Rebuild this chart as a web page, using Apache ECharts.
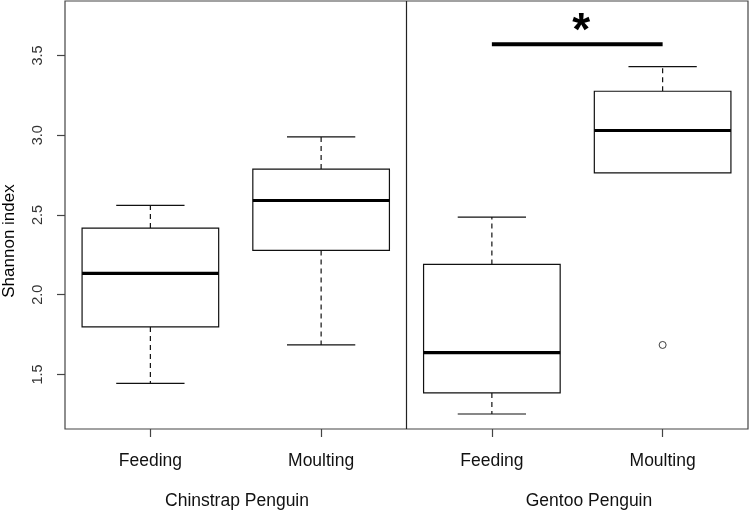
<!DOCTYPE html>
<html>
<head>
<meta charset="utf-8">
<script src="https://cdn.jsdelivr.net/npm/echarts@6/dist/echarts.min.js"></script>
<style>html,body{margin:0;padding:0;background:#fff;}#c{width:750px;height:511px;}</style>
</head>
<body>
<div id="c"></div>
<script>
const categories = ['Feeding', 'Moulting', 'Feeding', 'Moulting'];
const species = ['Chinstrap Penguin', 'Gentoo Penguin'];
const whiskerLow = [1.444, 1.685, 1.252, 2.764];
const q1 = [1.798, 2.278, 1.384, 2.764];
const median = [2.134, 2.591, 1.637, 3.030];
const q3 = [2.418, 2.788, 2.190, 3.276];
const whiskerHigh = [2.560, 2.990, 2.487, 3.430];
const outliers = [[3, 1.685]];
const yTicks = [1.5, 2.0, 2.5, 3.0, 3.5];
const sigFrom = 2, sigTo = 3, sigY = 3.571, sigLabel = '*';

const FONT = '"Liberation Sans", Arial, sans-serif';
const boxData = categories.map((c, i) => [i, whiskerLow[i], q1[i], median[i], q3[i], whiskerHigh[i]]);

const chart = echarts.init(document.getElementById('c'));
chart.setOption({
  animation: false,
  backgroundColor: '#fff',
  grid: { left: 65, right: 2, top: 1, bottom: 82, show: true, borderColor: '#444', borderWidth: 1.2, backgroundColor: 'transparent' },
  xAxis: {
    type: 'category', data: categories, boundaryGap: true,
    axisLine: { show: false },
    axisTick: { show: true, alignWithLabel: true, length: 8, lineStyle: { color: '#444', width: 1.2 } },
    axisLabel: { margin: 23, fontSize: 17.5, color: '#111', fontFamily: FONT },
    splitLine: { show: false }
  },
  yAxis: {
    type: 'value', min: 1.158, max: 3.842,
    axisLine: { show: false },
    axisTick: { show: true, length: 8, customValues: yTicks, lineStyle: { color: '#444', width: 1.2 } },
    axisLabel: { customValues: yTicks, rotate: 90, margin: 20, fontSize: 14.5, color: '#333', fontFamily: FONT, formatter: v => v.toFixed(1) },
    splitLine: { show: false }
  },
  graphic: [
    { type: 'text', x: 9, y: 241, rotation: Math.PI / 2, style: { text: 'Shannon index', font: '17px ' + FONT, fill: '#000', textAlign: 'center', textVerticalAlign: 'middle' } },
    { type: 'text', x: 237, y: 501, style: { text: species[0], font: '17.5px ' + FONT, fill: '#111', textAlign: 'center', textVerticalAlign: 'middle' } },
    { type: 'text', x: 589, y: 501, style: { text: species[1], font: '17.5px ' + FONT, fill: '#111', textAlign: 'center', textVerticalAlign: 'middle' } }
  ],
  series: [
    {
      type: 'custom',
      data: [[1, 2]],
      renderItem: function (params, api) {
        const cs = params.coordSys;
        const x = (api.coord([api.value(0), 2])[0] + api.coord([api.value(1), 2])[0]) / 2;
        return { type: 'line', shape: { x1: x, y1: cs.y, x2: x, y2: cs.y + cs.height }, style: { stroke: '#222', lineWidth: 1.2 } };
      },
      silent: true, z: 1
    },
    {
      type: 'custom',
      data: boxData,
      renderItem: function (params, api) {
        const idx = api.value(0);
        const x = api.coord([idx, 2])[0];
        const band = api.size([1, 0])[0];
        const bw = band * 0.8, cw = band * 0.4;
        const yL = api.coord([idx, api.value(1)])[1];
        const y1 = api.coord([idx, api.value(2)])[1];
        const yM = api.coord([idx, api.value(3)])[1];
        const y3 = api.coord([idx, api.value(4)])[1];
        const yH = api.coord([idx, api.value(5)])[1];
        const thin = { stroke: '#111', lineWidth: 1.2 };
        const dash = { stroke: '#111', lineWidth: 1.2, lineDash: [5, 4] };
        const ch = [];
        if (Math.abs(yH - y3) > 0.5) {
          ch.push({ type: 'line', shape: { x1: x, y1: y3, x2: x, y2: yH }, style: dash });
          ch.push({ type: 'line', shape: { x1: x - cw / 2, y1: yH, x2: x + cw / 2, y2: yH }, style: thin });
        }
        if (Math.abs(yL - y1) > 0.5) {
          ch.push({ type: 'line', shape: { x1: x, y1: y1, x2: x, y2: yL }, style: dash });
          ch.push({ type: 'line', shape: { x1: x - cw / 2, y1: yL, x2: x + cw / 2, y2: yL }, style: thin });
        }
        ch.push({ type: 'rect', shape: { x: x - bw / 2, y: y3, width: bw, height: y1 - y3 }, style: { fill: '#fff', stroke: '#111', lineWidth: 1.2 } });
        ch.push({ type: 'line', shape: { x1: x - bw / 2, y1: yM, x2: x + bw / 2, y2: yM }, style: { stroke: '#000', lineWidth: 3.2 } });
        return { type: 'group', children: ch };
      },
      silent: true, z: 2
    },
    {
      type: 'scatter',
      data: outliers,
      symbol: 'circle', symbolSize: 7,
      itemStyle: { color: '#fff', borderColor: '#111', borderWidth: 1 },
      silent: true, z: 3
    },
    {
      type: 'custom',
      data: [[sigFrom, sigTo, sigY]],
      renderItem: function (params, api) {
        const a = api.coord([api.value(0), api.value(2)]);
        const b = api.coord([api.value(1), api.value(2)]);
        return {
          type: 'group', children: [
            { type: 'line', shape: { x1: a[0], y1: a[1], x2: b[0], y2: b[1] }, style: { stroke: '#000', lineWidth: 4 } },
            { type: 'text', x: (a[0] + b[0]) / 2 + 4, y: a[1] - 12, style: { text: sigLabel, font: 'bold 46px ' + FONT, fill: '#000', textAlign: 'center', textVerticalAlign: 'middle' } }
          ]
        };
      },
      silent: true, z: 3
    }
  ]
});
</script>
</body>
</html>
